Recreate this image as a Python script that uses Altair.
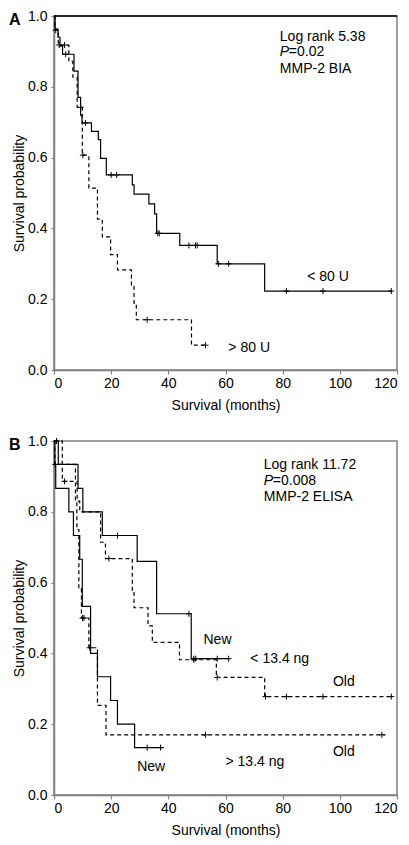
import altair as alt
import pandas as pd

FONT = "Liberation Sans"

# ---------------- Panel A (MMP-2 BIA) ----------------
a_lo_times = [0, 0.4, 1.4, 2.1, 3.0, 7.0, 8.4, 9.3, 9.8, 13.1, 15.5, 16.3, 18.3, 27.4, 28.0, 33.2, 35.2, 35.9, 44.0, 57.1, 73.7]
a_lo_surv = [1.0, 0.963, 0.94, 0.915, 0.892, 0.844, 0.770, 0.72, 0.698, 0.674, 0.651, 0.598, 0.551, 0.523, 0.497, 0.469, 0.441, 0.386, 0.352, 0.300, 0.223]
a_lo_end = 118
a_lo_cens = [4.1, 11.0, 20.0, 21.9, 36.3, 36.8, 47.2, 49.5, 50.1, 57.5, 61.1, 81.3, 94.1, 118.0]

a_hi_times = [0, 0.3, 1.5, 5.2, 6.6, 8.1, 9.9, 12.2, 15.2, 16.9, 19.8, 22.2, 27.1, 28.0, 28.8, 48.1]
a_hi_surv = [1.0, 0.96, 0.918, 0.872, 0.827, 0.742, 0.607, 0.514, 0.426, 0.376, 0.326, 0.283, 0.236, 0.189, 0.142, 0.070]
a_hi_end = 53
a_hi_cens = [0.6, 1.8, 3.7, 9.3, 10.1, 32.6, 53.0]

a_text = ["Log rank 5.38", "MMP-2 BIA", "< 80  U", "> 80  U"]
a_text_t = [79.0, 79.0, 88.6, 61.0]
a_text_s = [0.941, 0.851, 0.263, 0.063]
a_p_text = ["=0.02"]
a_p_t = [79.0]
a_p_s = [0.897]
a_frame_top = [1.0]

# ---------------- Panel B (MMP-2 ELISA) ----------------
b_new_lo_times = [0, 1.5, 8.4, 10.1, 16.9, 29.1, 35.9, 48.0]
b_new_lo_surv = [1.0, 0.934, 0.866, 0.80, 0.733, 0.66, 0.512, 0.385]
b_new_lo_end = 61.1
b_new_lo_cens = [0.9, 22.2, 47.2, 48.9, 49.6, 57.1, 61.1]

b_new_hi_times = [0, 0.3, 0.6, 5.2, 6.8, 9.0, 9.9, 12.8, 15.2, 19.8, 22.2, 28.2]
b_new_hi_surv = [1.0, 0.934, 0.866, 0.80, 0.733, 0.666, 0.533, 0.40, 0.334, 0.267, 0.20, 0.134]
b_new_hi_end = 38.4
b_new_hi_cens = [0.4, 32.6, 37.3]

b_old_lo_times = [0, 2.9, 8.1, 9.0, 16.3, 18.0, 27.4, 28.0, 32.9, 34.4, 43.9, 56.8, 73.7]
b_old_lo_surv = [1.0, 0.886, 0.83, 0.80, 0.714, 0.668, 0.575, 0.529, 0.478, 0.431, 0.382, 0.332, 0.278]
b_old_lo_end = 118
b_old_lo_cens = [3.7, 19.2, 48.9, 57.1, 74.0, 81.3, 94.1, 118.0]

b_old_hi_times = [0, 0.3, 7.5, 8.0, 8.7, 9.6, 12.2, 15.2, 18.2]
b_old_hi_surv = [1.0, 0.934, 0.83, 0.75, 0.583, 0.50, 0.416, 0.253, 0.17]
b_old_hi_end = 115.9
b_old_hi_cens = [10.0, 10.5, 12.5, 53.0, 114.7]

b_text = ["Log rank 11.72", "MMP-2 ELISA", "New", "< 13.4 ng", "Old", "Old", "> 13.4 ng", "New"]
b_text_t = [73.4, 73.4, 52.3, 68.7, 97.6, 97.6, 60.0, 29.1]
b_text_s = [0.932, 0.842, 0.437, 0.384, 0.318, 0.121, 0.093, 0.079]
b_p_text = ["=0.008"]
b_p_t = [73.4]
b_p_s = [0.888]

x_ticks = [0, 20, 40, 60, 80, 100, 120]
y_ticks = [0.0, 0.2, 0.4, 0.6, 0.8, 1.0]

W, H = 343, 354
FS = 14


def step_rows(name, dash, times, surv, end):
    rows = []
    for i, (t, s) in enumerate(zip(times, surv)):
        rows.append({"curve": name, "dash": dash, "t": t, "s": s, "i": i})
    rows.append({"curve": name, "dash": dash, "t": end, "s": surv[-1], "i": len(times)})
    return rows


def surv_at(times, surv, t):
    s = surv[0]
    for ti, si in zip(times, surv):
        if ti <= t:
            s = si
    return s


def cens_rows(name, times, surv, cens):
    return [{"curve": name, "t": c, "s": surv_at(times, surv, c)} for c in cens]


xs = alt.Scale(domain=[0, 120], nice=False)
ys = alt.Scale(domain=[0, 1], nice=False)

x_axis = alt.Axis(values=x_ticks, title="Survival (months)", grid=False, tickSize=4,
                  labelPadding=2, labelFlush=4, titlePadding=8, format="d")
y_axis = alt.Axis(values=y_ticks, title="Survival probability", grid=False, tickSize=3,
                  labelPadding=4, titlePadding=1, format=".1f")


def panel(curves, texts, ptexts, letter, top_line=None):
    line_rows, cens = [], []
    for (name, dash, times, surv, end, cz) in curves:
        line_rows += step_rows(name, dash, times, surv, end)
        cens += cens_rows(name, times, surv, cz)
    ldf = pd.DataFrame(line_rows)
    cdf = pd.DataFrame(cens)
    tdf = pd.DataFrame({"label": texts[0], "t": texts[1], "s": texts[2]})
    pdf = pd.DataFrame({"label": ptexts[0], "t": ptexts[1], "s": ptexts[2]})
    letdf = pd.DataFrame({"label": [letter]})

    lines = alt.Chart(ldf).mark_line(interpolate="step-after", color="black", strokeWidth=1.2).encode(
        x=alt.X("t:Q", scale=xs, axis=x_axis),
        y=alt.Y("s:Q", scale=ys, axis=y_axis),
        detail="curve:N",
        order="i:Q",
        strokeDash=alt.StrokeDash("dash:N", scale=alt.Scale(domain=["solid", "dashed"], range=[[1, 0], [4, 3]]), legend=None),
    )
    pts = alt.Chart(cdf).mark_point(shape="M-1,0H1M0,-1V1", filled=False, size=36, color="black", strokeWidth=1, opacity=1).encode(
        x=alt.X("t:Q", scale=xs), y=alt.Y("s:Q", scale=ys))
    txt = alt.Chart(tdf).mark_text(align="left", baseline="middle", font=FONT, fontSize=FS, color="black").encode(
        x=alt.X("t:Q", scale=xs), y=alt.Y("s:Q", scale=ys), text="label:N")
    pitalic = alt.Chart(pdf).mark_text(align="left", baseline="middle", font=FONT, fontSize=FS, fontStyle="italic", color="black").encode(
        x=alt.X("t:Q", scale=xs), y=alt.Y("s:Q", scale=ys), text=alt.value("P"))
    prest = alt.Chart(pdf).mark_text(align="left", baseline="middle", font=FONT, fontSize=FS, dx=9, color="black").encode(
        x=alt.X("t:Q", scale=xs), y=alt.Y("s:Q", scale=ys), text="label:N")
    let = alt.Chart(letdf).mark_text(align="left", baseline="middle", font=FONT, fontSize=16, fontWeight="bold", color="black").encode(
        x=alt.value(-45), y=alt.value(4), text="label:N")
    layers = [lines, pts, txt, pitalic, prest, let]
    if top_line is not None:
        tl = alt.Chart(pd.DataFrame({"s": top_line})).mark_rule(color="black", strokeWidth=1.5).encode(
            y=alt.Y("s:Q", scale=ys))
        layers.append(tl)
    return alt.layer(*layers).properties(width=W, height=H)


pA = panel(
    [("lt80", "solid", a_lo_times, a_lo_surv, a_lo_end, a_lo_cens),
     ("gt80", "dashed", a_hi_times, a_hi_surv, a_hi_end, a_hi_cens)],
    (a_text, a_text_t, a_text_s), (a_p_text, a_p_t, a_p_s), "A", top_line=a_frame_top)

pB = panel(
    [("new_lo", "solid", b_new_lo_times, b_new_lo_surv, b_new_lo_end, b_new_lo_cens),
     ("new_hi", "solid", b_new_hi_times, b_new_hi_surv, b_new_hi_end, b_new_hi_cens),
     ("old_lo", "dashed", b_old_lo_times, b_old_lo_surv, b_old_lo_end, b_old_lo_cens),
     ("old_hi", "dashed", b_old_hi_times, b_old_hi_surv, b_old_hi_end, b_old_hi_cens)],
    (b_text, b_text_t, b_text_s), (b_p_text, b_p_t, b_p_s), "B")

chart = alt.vconcat(pA, pB, spacing=20).properties(padding=0, background="white").configure_view(
    stroke="#808080", strokeWidth=1.5
).configure_axis(
    domainColor="#808080", domainWidth=1.5, tickColor="#808080", tickWidth=1.2,
    labelFont=FONT, labelFontSize=FS, labelColor="black",
    titleFont=FONT, titleFontSize=FS, titleFontWeight="normal", titleColor="black",
)

chart.save("out.html", embed_options={"renderer": "svg", "actions": False})
